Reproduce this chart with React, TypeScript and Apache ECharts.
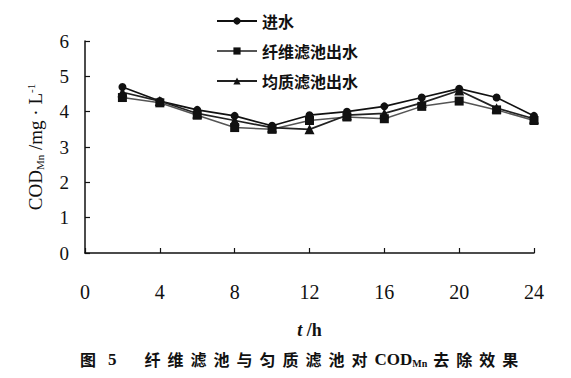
import React, { useEffect, useRef } from "react";
import * as echarts from "echarts";

const hours = [2, 4, 6, 8, 10, 12, 14, 16, 18, 20, 22, 24];
const inflow = [4.7, 4.3, 4.05, 3.88, 3.6, 3.9, 4.0, 4.15, 4.4, 4.65, 4.4, 3.88];
const fiberOut = [4.4, 4.25, 3.9, 3.55, 3.5, 3.75, 3.85, 3.8, 4.15, 4.3, 4.05, 3.75];
const homoOut = [4.55, 4.3, 3.95, 3.75, 3.55, 3.5, 3.9, 3.95, 4.25, 4.6, 4.1, 3.8];
const seriesNames = ["进水", "纤维滤池出水", "均质滤池出水"];
const yTicks = [0, 1, 2, 3, 4, 5, 6];
const xTicks = [0, 4, 8, 12, 16, 20, 24];
const titleFig = "图";
const titleNum = "5";
const titleMid = "纤维滤池与匀质滤池对";
const titleEnd = "去除效果";

const SERIF = "'Liberation Serif', 'DejaVu Serif', serif";
const CJK = "'Noto Sans CJK SC', 'Liberation Serif', sans-serif";

const spaced = (s: string) =>
  s
    .split("")
    .map((ch) => `{c|${ch}}`)
    .join("");

export default function App() {
  const ref = useRef<HTMLDivElement>(null);
  useEffect(() => {
    if (!ref.current) return;
    const chart = echarts.init(ref.current, undefined, { renderer: "svg" });
    const pair = (arr: number[]) => hours.map((h, i) => [h, arr[i]]);
    chart.setOption({
      animation: false,
      backgroundColor: "#fff",
      grid: { left: 85, right: 37, top: 41, bottom: 125 },
      title: {
        text: `{fig|${titleFig}}{num|${titleNum}}{gap| }${spaced(titleMid)}{cod|COD}{sub|Mn}{gap2| }${spaced(titleEnd)}`,
        left: 75,
        top: 345,
        textStyle: {
          fontFamily: CJK,
          fontSize: 16,
          fontWeight: "bold",
          color: "#111",
          rich: {
            fig: { fontFamily: CJK, fontSize: 16, fontWeight: "bold", color: "#111", padding: [0, 12, 0, 0] },
            num: { fontFamily: SERIF, fontSize: 17, fontWeight: "bold", color: "#111" },
            c: { fontFamily: CJK, fontSize: 16, fontWeight: "bold", color: "#111", padding: [0, 7, 0, 0] },
            gap: { fontSize: 16, width: 28 },
            gap2: { fontSize: 16, width: 6 },
            cod: { fontFamily: SERIF, fontSize: 17, fontWeight: "bold", color: "#111" },
            sub: { fontFamily: SERIF, fontSize: 10, fontWeight: "bold", padding: [8, 0, 0, 0], color: "#111" },
          },
        },
      },
      legend: {
        orient: "vertical",
        left: 211,
        top: 8,
        itemWidth: 40,
        itemHeight: 9,
        itemGap: 14,
        data: seriesNames,
        textStyle: { fontFamily: CJK, fontSize: 16, fontWeight: "bold", color: "#111" },
      },
      xAxis: {
        type: "value",
        min: 0,
        max: 24,
        interval: 4,
        name: "{it|t} /h",
        nameLocation: "middle",
        nameGap: 68,
        nameTextStyle: {
          fontFamily: SERIF,
          fontSize: 18,
          fontWeight: "bold",
          color: "#111",
          rich: { it: { fontFamily: SERIF, fontSize: 18, fontStyle: "italic", fontWeight: "bold", color: "#111" } },
        },
        axisLine: { lineStyle: { color: "#111", width: 1.5 } },
        axisTick: { inside: true, length: 5, lineStyle: { color: "#111", width: 1.2 } },
        splitLine: { show: false },
        axisLabel: {
          fontFamily: SERIF,
          fontSize: 20,
          color: "#111",
          margin: 29,
          formatter: (v: number) => (xTicks.includes(v) ? String(v) : ""),
        },
      },
      yAxis: {
        type: "value",
        min: 0,
        max: 6,
        interval: 1,
        name: "COD{sub|Mn} /mg · L{sup|-1}",
        nameLocation: "middle",
        nameRotate: 90,
        nameGap: 40,
        nameTextStyle: {
          fontFamily: SERIF,
          fontSize: 19,
          color: "#111",
          rich: {
            sub: { fontFamily: SERIF, fontSize: 11, padding: [9, 0, 0, 0], color: "#111" },
            sup: { fontFamily: SERIF, fontSize: 11, padding: [0, 0, 9, 0], color: "#111" },
          },
        },
        axisLine: { show: true, lineStyle: { color: "#111", width: 1.5 } },
        axisTick: { show: true, inside: true, length: 5, lineStyle: { color: "#111", width: 1.2 } },
        splitLine: { show: false },
        axisLabel: {
          fontFamily: SERIF,
          fontSize: 19,
          color: "#111",
          margin: 16,
          formatter: (v: number) => (yTicks.includes(v) ? String(v) : ""),
        },
      },
      series: [
        {
          name: seriesNames[0],
          type: "line",
          data: pair(inflow),
          symbol: "circle",
          symbolSize: 8,
          itemStyle: { color: "#111" },
          lineStyle: { color: "#111", width: 1.7 },
        },
        {
          name: seriesNames[1],
          type: "line",
          data: pair(fiberOut),
          symbol: "rect",
          symbolSize: 9,
          itemStyle: { color: "#111" },
          lineStyle: { color: "#555", width: 1.5 },
        },
        {
          name: seriesNames[2],
          type: "line",
          data: pair(homoOut),
          symbol: "triangle",
          symbolSize: 10,
          itemStyle: { color: "#111" },
          lineStyle: { color: "#222", width: 1.7 },
        },
      ],
    });
    return () => chart.dispose();
  }, []);
  return <div ref={ref} style={{ width: 571, height: 378, position: "absolute", left: 0, top: 0 }} />;
}
